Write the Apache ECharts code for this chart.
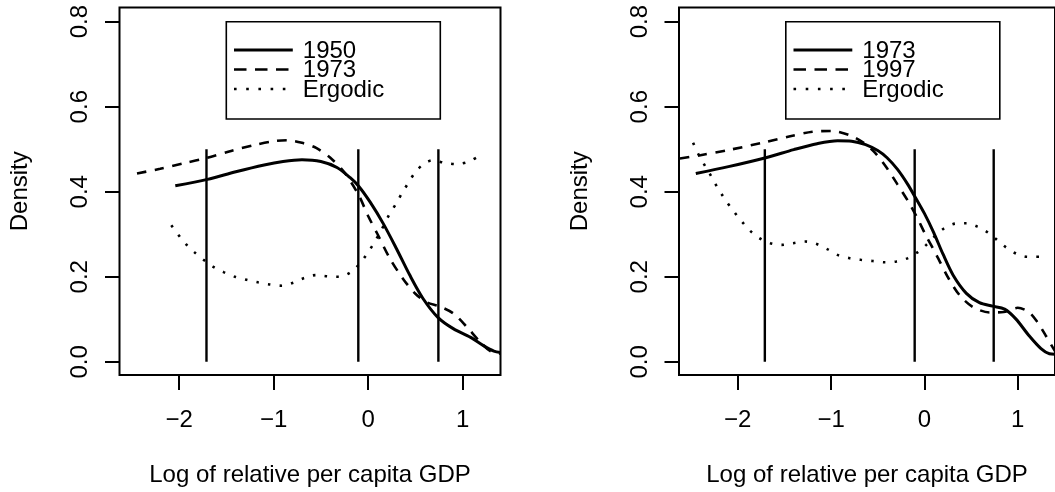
<!DOCTYPE html>
<html>
<head>
<meta charset="utf-8">
<title>Density of log relative per capita GDP</title>
<script src="https://cdn.jsdelivr.net/npm/echarts@6/dist/echarts.min.js"></script>
<style>
  html, body { margin: 0; padding: 0; background: #fff; }
  #chart { width: 1055px; height: 492px; }
</style>
</head>
<body>
<div id="chart"></div>
<script>
// ---- data: kernel density estimates, log of relative per capita GDP ----
const xTicks = [-2, -1, 0, 1];
const yTicks = [0, 0.2, 0.4, 0.6, 0.8];
const cutoffs = [-1.71, -0.104, 0.743];   // class boundaries (drawn up to 0.5)
const cutoffTop = 0.5;

// Left panel: 1950, 1973, ergodic
const left1950X = [-2.04, -1.7, -1.4, -1.1, -0.9, -0.7, -0.5, -0.33, -0.19, -0.1, 0.02, 0.16, 0.3, 0.44, 0.58, 0.74, 0.9, 1.08, 1.22, 1.33, 1.40];
const left1950Y = [0.414, 0.429, 0.447, 0.463, 0.471, 0.475, 0.471, 0.457, 0.433, 0.413, 0.376, 0.325, 0.266, 0.204, 0.149, 0.104, 0.078, 0.058, 0.038, 0.025, 0.022];

const left1973X = [-2.445, -2.2, -1.95, -1.7, -1.45, -1.2, -1.0, -0.85, -0.7, -0.55, -0.4, -0.25, -0.1, 0.0, 0.1, 0.23, 0.37, 0.5, 0.62, 0.76, 0.9, 1.04, 1.18, 1.3, 1.40];
const left1973Y = [0.443, 0.454, 0.467, 0.480, 0.496, 0.510, 0.519, 0.521, 0.515, 0.503, 0.480, 0.445, 0.392, 0.343, 0.300, 0.243, 0.195, 0.160, 0.140, 0.130, 0.114, 0.083, 0.048, 0.024, 0.019];

const leftErgX = [-2.082, -2.005, -1.927, -1.839, -1.741, -1.642, -1.529, -1.409, -1.286, -1.166, -1.043, -0.912, -0.793, -0.677, -0.553, -0.426, -0.303, -0.183, -0.092, -0.021, 0.05, 0.135, 0.225, 0.293, 0.356, 0.42, 0.49, 0.574, 0.684, 0.807, 0.93, 1.054, 1.173];
const leftErgY = [0.321, 0.298, 0.277, 0.258, 0.240, 0.224, 0.211, 0.200, 0.193, 0.187, 0.182, 0.179, 0.186, 0.197, 0.204, 0.201, 0.200, 0.211, 0.230, 0.251, 0.275, 0.308, 0.347, 0.371, 0.396, 0.419, 0.443, 0.463, 0.474, 0.468, 0.465, 0.470, 0.484];

// Right panel: 1973, 1997, ergodic
const right1973X = [-2.45, -2.1, -1.7, -1.4, -1.15, -0.93, -0.78, -0.63, -0.5, -0.4, -0.29, -0.18, -0.095, 0.0, 0.1, 0.2, 0.31, 0.45, 0.59, 0.73, 0.86, 0.98, 1.12, 1.25, 1.34, 1.40];
const right1973Y = [0.443, 0.459, 0.480, 0.499, 0.513, 0.520, 0.519, 0.511, 0.497, 0.480, 0.453, 0.418, 0.386, 0.349, 0.304, 0.253, 0.203, 0.161, 0.139, 0.131, 0.124, 0.101, 0.062, 0.031, 0.019, 0.018];

const right1997X = [-2.62, -2.4, -2.1, -1.7, -1.45, -1.2, -1.0, -0.8, -0.65, -0.53, -0.4, -0.29, -0.17, -0.08, 0.01, 0.13, 0.26, 0.38, 0.52, 0.7, 0.85, 1.0, 1.12, 1.21, 1.30, 1.40];
const right1997Y = [0.478, 0.486, 0.498, 0.517, 0.530, 0.541, 0.543, 0.533, 0.515, 0.492, 0.455, 0.418, 0.376, 0.340, 0.300, 0.251, 0.196, 0.156, 0.129, 0.116, 0.117, 0.127, 0.117, 0.094, 0.062, 0.025];

const rightErgX = [-2.479, -2.426, -2.365, -2.302, -2.242, -2.175, -2.104, -2.03, -1.949, -1.867, -1.769, -1.652, -1.529, -1.405, -1.278, -1.155, -1.041, -0.925, -0.808, -0.684, -0.554, -0.424, -0.3, -0.176, -0.07, 0.021, 0.115, 0.212, 0.329, 0.452, 0.569, 0.682, 0.777, 0.876, 0.989, 1.106, 1.229];
const rightErgY = [0.515, 0.490, 0.466, 0.443, 0.419, 0.395, 0.372, 0.350, 0.328, 0.308, 0.291, 0.279, 0.275, 0.279, 0.283, 0.277, 0.265, 0.251, 0.244, 0.240, 0.237, 0.234, 0.236, 0.244, 0.258, 0.275, 0.296, 0.314, 0.325, 0.326, 0.318, 0.304, 0.287, 0.269, 0.254, 0.247, 0.247];

const leftLegend = ['1950', '1973', 'Ergodic'];
const rightLegend = ['1973', '1997', 'Ergodic'];

// ---- styling ----
const FONT = 'Liberation Sans, Arial, Helvetica, sans-serif';
const FS = 24;
const styles = {
  solid:  { color: '#000', width: 3,   type: 'solid' },
  dashed: { color: '#000', width: 2.6, type: [9.5, 8.5] },
  dotted: { color: '#000', width: 2.6, type: [2.6, 9.1] }
};

function zip(xs, ys) { return xs.map((x, i) => [x, ys[i]]); }

const panels = [
  { left: 119.5, curves: [[left1950X, left1950Y, 'solid'], [left1973X, left1973Y, 'dashed'], [leftErgX, leftErgY, 'dotted']], legend: leftLegend },
  { left: 679,   curves: [[right1973X, right1973Y, 'solid'], [right1997X, right1997Y, 'dashed'], [rightErgX, rightErgY, 'dotted']], legend: rightLegend }
];

const grids = [], xAxes = [], yAxes = [], series = [], graphics = [];

panels.forEach((p, gi) => {
  grids.push({ left: p.left, top: 7.5, width: 381, height: 369, show: true,
               borderColor: '#000', borderWidth: 2, backgroundColor: 'transparent' });
  xAxes.push({
    type: 'value', gridIndex: gi, min: -2.63, max: 1.40,
    name: 'Log of relative per capita GDP', nameLocation: 'middle', nameGap: 88,
    nameTextStyle: { fontFamily: FONT, fontSize: FS, color: '#000' },
    axisLine: { show: false, onZero: false },
    splitLine: { show: false },
    axisTick: { show: true, length: 15, customValues: xTicks, lineStyle: { color: '#000', width: 2 } },
    axisLabel: { customValues: xTicks, margin: 33, fontFamily: FONT, fontSize: FS, color: '#000',
                 formatter: v => (v < 0 ? '\u2212' + Math.abs(v) : String(v)) }
  });
  yAxes.push({
    type: 'value', gridIndex: gi, min: -0.031, max: 0.8333,
    name: 'Density', nameLocation: 'middle', nameGap: 87, nameRotate: 90,
    nameTextStyle: { fontFamily: FONT, fontSize: FS, color: '#000' },
    axisLine: { show: false, onZero: false },
    splitLine: { show: false },
    axisTick: { show: true, length: 14.5, customValues: yTicks, lineStyle: { color: '#000', width: 2 } },
    axisLabel: { customValues: yTicks, rotate: 90, margin: 27, fontFamily: FONT, fontSize: FS, color: '#000',
                 formatter: v => v.toFixed(1) }
  });

  p.curves.forEach(([xs, ys, kind], ci) => {
    series.push({
      type: 'line', name: p.legend[ci], xAxisIndex: gi, yAxisIndex: gi,
      data: zip(xs, ys), showSymbol: false, symbol: 'none', smooth: 0.3,
      lineStyle: styles[kind], clip: true, silent: true, z: 3
    });
  });
  cutoffs.forEach(c => {
    series.push({
      type: 'line', xAxisIndex: gi, yAxisIndex: gi,
      data: [[c, 0], [c, cutoffTop]], symbol: 'none',
      lineStyle: { color: '#000', width: 2.4 }, silent: true, z: 4
    });
  });

  // legend box
  const bx = p.left + 106.8, by = 21.7;
  const kinds = ['solid', 'dashed', 'dotted'];
  const rowY = [50, 69.5, 89];
  const children = [{
    type: 'rect', shape: { x: bx, y: by, width: 214, height: 97.3 },
    style: { fill: '#fff', stroke: '#000', lineWidth: 1.6 }
  }];
  kinds.forEach((k, i) => {
    const dash = k === 'solid' ? null : (k === 'dashed' ? [12.5, 8.5] : [2.6, 9.6]);
    children.push({
      type: 'line', shape: { x1: bx + 7.7, y1: rowY[i], x2: bx + 66.5, y2: rowY[i] },
      style: { stroke: '#000', lineWidth: k === 'solid' ? 3 : 2.6, lineDash: dash }
    });
    children.push({
      type: 'text', x: bx + 76.5, y: rowY[i] + 1,
      style: { text: p.legend[i], font: FS + 'px ' + FONT, fill: '#000',
               textAlign: 'left', textVerticalAlign: 'middle' }
    });
  });
  graphics.push({ type: 'group', children: children, z: 10 });
});

const chart = echarts.init(document.getElementById('chart'), null, { renderer: 'canvas' });
chart.setOption({
  animation: false,
  backgroundColor: '#fff',
  grid: grids,
  xAxis: xAxes,
  yAxis: yAxes,
  series: series,
  graphic: graphics
});
</script>
</body>
</html>
